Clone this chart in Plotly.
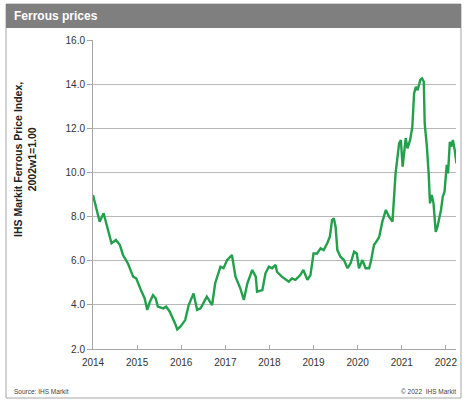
import plotly.graph_objects as go

# traced data: decimal year, index value
years = [2014.00, 2014.08, 2014.15, 2014.24, 2014.30, 2014.42, 2014.52, 2014.61, 2014.68, 2014.79,
         2014.91, 2014.98, 2015.10, 2015.17, 2015.23, 2015.29, 2015.36, 2015.42, 2015.47, 2015.59,
         2015.66, 2015.74, 2015.86, 2015.91, 2015.98, 2016.09, 2016.17, 2016.28, 2016.36, 2016.44,
         2016.58, 2016.70, 2016.77, 2016.89, 2016.96, 2017.04, 2017.15, 2017.23, 2017.34, 2017.42,
         2017.50, 2017.61, 2017.69, 2017.72, 2017.84, 2017.91, 2017.99, 2018.06, 2018.14, 2018.17,
         2018.28, 2018.44, 2018.51, 2018.59, 2018.70, 2018.77, 2018.86, 2018.93, 2019.00, 2019.08,
         2019.16, 2019.23, 2019.31, 2019.37, 2019.42, 2019.46, 2019.50, 2019.54, 2019.61, 2019.69,
         2019.77, 2019.84, 2019.92, 2019.98, 2020.03, 2020.11, 2020.18, 2020.26, 2020.30, 2020.37,
         2020.45, 2020.49, 2020.56, 2020.64, 2020.71, 2020.79, 2020.86, 2020.94, 2020.98, 2021.02,
         2021.09, 2021.13, 2021.19, 2021.24, 2021.28, 2021.32, 2021.36, 2021.42, 2021.46, 2021.50,
         2021.52, 2021.57, 2021.61, 2021.64, 2021.68, 2021.72, 2021.77, 2021.81, 2021.89, 2021.93,
         2021.97, 2022.02, 2022.05, 2022.09, 2022.12, 2022.16, 2022.20, 2022.24]
values = [8.98, 8.37, 7.77, 8.15, 7.70, 6.79, 6.94, 6.71, 6.26, 5.88,
          5.28, 5.20, 4.60, 4.30, 3.77, 4.14, 4.44, 4.30, 3.92, 3.84,
          3.92, 3.69, 3.16, 2.89, 3.01, 3.31, 3.99, 4.52, 3.77, 3.84,
          4.37, 3.99, 4.98, 5.73, 5.66, 6.03, 6.26, 5.28, 4.75, 4.22,
          4.98, 5.58, 5.28, 4.60, 4.67, 5.43, 5.73, 5.66, 5.81, 5.50,
          5.28, 5.05, 5.20, 5.13, 5.35, 5.58, 5.13, 5.35, 6.33, 6.33,
          6.56, 6.48, 6.79, 7.09, 7.84, 7.92, 7.54, 6.48, 6.18, 6.03,
          5.66, 5.88, 6.41, 6.33, 5.66, 6.03, 5.66, 5.66, 5.96, 6.71,
          6.94, 7.09, 7.77, 8.30, 8.00, 7.77, 9.96, 11.32, 11.47, 10.26,
          11.55, 11.09, 11.47, 12.07, 13.58, 13.88, 13.73, 14.19, 14.26, 14.11,
          12.23, 11.17, 9.96, 8.60, 8.98, 8.60, 7.31, 7.54, 8.30, 8.90,
          9.13, 10.34, 9.96, 11.39, 11.17, 11.47, 11.02, 10.41]

x_ticks = [2014, 2015, 2016, 2017, 2018, 2019, 2020, 2021, 2022]
x_labels = ["2014", "2015", "2016", "2017", "2018", "2019", "2020", "2021", "2022"]
y_ticks = [2, 4, 6, 8, 10, 12, 14, 16]

W, H = 467, 402
L, R, T, B = 93, 456, 40, 349


def px(x):
    return (x - L) / (R - L)


def py(y):
    return (B - y) / (B - T)


fig = go.Figure()
fig.add_trace(go.Scatter(x=years, y=values, mode="lines",
                         line=dict(color="#22a04b", width=2.4), hoverinfo="skip"))

font = "Liberation Sans, Arial, sans-serif"
fig.update_layout(
    width=W, height=H,
    margin=dict(l=L, r=W - R, t=T, b=H - B, autoexpand=False),
    paper_bgcolor="white", plot_bgcolor="white",
    showlegend=False,
    font=dict(family=font, size=10, color="#333333"),
    xaxis=dict(range=[2014, 2022.23], tickvals=x_ticks, ticktext=x_labels,
               automargin=False, ticklabelstandoff=4,
               showgrid=False, zeroline=False, showline=True, linecolor="#a6a6a6",
               linewidth=1, ticks="inside", ticklen=4, tickcolor="#a6a6a6",
               tickfont=dict(size=10, color="#333333")),
    yaxis=dict(range=[2, 16], tickvals=y_ticks, tickformat=".1f",
               automargin=False,
               showgrid=True, gridcolor="#b8b8b8", gridwidth=1, zeroline=False,
               showline=True, linecolor="#a6a6a6", linewidth=1,
               ticks="outside", ticklen=5, tickcolor="#a6a6a6",
               tickfont=dict(size=10, color="#333333")),
    shapes=[
        # outer frame
        dict(type="rect", xref="paper", yref="paper",
             x0=px(6), x1=px(461), y0=py(398), y1=py(4),
             line=dict(color="#a6a6a6", width=1), fillcolor="rgba(0,0,0,0)", layer="below"),
        # title bar
        dict(type="rect", xref="paper", yref="paper",
             x0=px(6), x1=px(461), y0=py(28), y1=py(4),
             line=dict(width=0), fillcolor="#7f7f7f", layer="below"),
    ],
    annotations=[
        dict(text="<b>Ferrous prices</b>", xref="paper", yref="paper",
             x=px(12), y=py(16), xanchor="left", yanchor="middle", showarrow=False,
             font=dict(size=12, color="white", family=font)),
        dict(text="<b>IHS Markit Ferrous Price Index,<br>2002w1=1.00</b>", xref="paper", yref="paper",
             x=px(25), y=py(160), xanchor="center", yanchor="middle", showarrow=False,
             textangle=-90, font=dict(size=10.5, color="#222222", family=font)),
        dict(text="Source: IHS Markit", xref="paper", yref="paper",
             x=px(12), y=py(391), xanchor="left", yanchor="middle", showarrow=False,
             font=dict(size=6.5, color="#444444", family=font)),
        dict(text="© 2022  IHS Markit", xref="paper", yref="paper",
             x=px(458), y=py(391), xanchor="right", yanchor="middle", showarrow=False,
             font=dict(size=6.5, color="#444444", family=font)),
    ],
)

fig.write_html("out.html", config={"displayModeBar": False},
               post_script="document.body.style.margin='0';document.body.style.overflow='hidden';")
